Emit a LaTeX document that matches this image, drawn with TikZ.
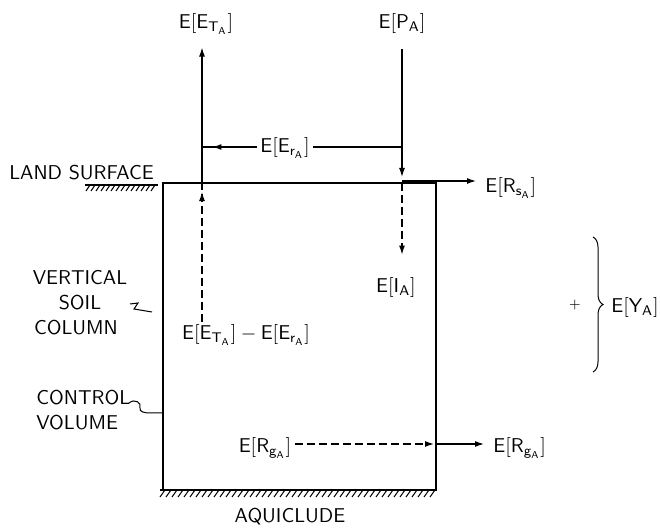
\documentclass[tikz,border=0pt]{standalone}
\usetikzlibrary{arrows.meta,decorations.markings,decorations.pathreplacing}
\newcommand{\expv}[1]{$\mathsf{E[#1]}$}

\begin{document}
\begin{tikzpicture}[x=0.5pt,y=-0.5pt,font=\sffamily,
	every node/.style={inner sep=1.5pt},
	flow/.style={line width=0.6pt},
	tip/.style={-{Latex[length=4.5pt,width=3pt]}},
	dashflow/.style={flow,dash pattern=on 4pt off 2pt},
	tipat/.style={postaction={decorate},decoration={markings,
		mark=at position #1 with {\arrow{Latex[length=4.5pt,width=3pt]}}}},
	txt/.style={anchor=base},
	hatch/.style={line width=0.5pt}]
		\useasboundingbox (0,0) rectangle (660,529);
		\node[txt] (ET) at (206,29) {\expv{E_{T_A}}};
		\node[txt] (P) at (402,29) {\expv{P_A}};
		\node[txt] (Er) at (285,153) {\expv{E_{r_A}}};
		\node[txt,anchor=base west] (Rs) at (482,193) {\expv{R_{s_A}}};
		\node[txt] (I) at (396,293) {\expv{I_A}};
		\node[txt] (Net) at (246,340) {$\mathsf{E[E_{T_A}] - E[E_{r_A}]}$};
		\node[txt] (Rg) at (265,453) {\expv{R_{g_A}}};
		\node[txt,anchor=base west] (Rgout) at (490,453) {\expv{R_{g_A}}};
		\node[txt,anchor=base west] (Y) at (608,313) {\expv{Y_A}};
		\node (plus) at (575,305) {\scriptsize +};
		\node[txt,anchor=base west] (land) at (6,180) {LAND SURFACE};
		\node[txt] (vert) at (80,285) {VERTICAL};
		\node[txt] (soil) at (80,310) {SOIL};
		\node[txt] (col) at (76,335) {COLUMN};
		\node[txt,anchor=base west] (ctrl) at (33,405) {CONTROL};
		\node[txt,anchor=base west] (vol) at (33,430) {VOLUME};
		\node[txt] (aqui) at (290,523) {AQUICLUDE};
		\coordinate (tl) at (163,183);
		\coordinate (br) at (436,490);
		\coordinate (etbase) at (202,183);
		\coordinate (pbase) at (402,183);
		\coordinate (rsL) at (402,181);
		\coordinate (erR) at (402,147);
		\coordinate (erL) at (202,147);
		\coordinate (rgR) at (436,444);
		\coordinate (bracetop) at (593,237);
		\coordinate (bracebot) at (593,372);
		\draw[flow] (tl) rectangle (br);
		\draw[flow,tip,shorten >=5pt] (etbase) -- (etbase |- ET.south);
		\draw[flow,tip,shorten <=6pt,shorten >=3pt] (pbase |- P.south) -- (pbase);
		\draw[flow,tipat=0.81] (erL -| Er.west) -- (erL);
		\draw[flow] (erR) -- (erR -| Er.east);
		\draw[flow,tip,shorten >=3pt] (rsL) -- (rsL -| Rs.west);
		\draw[dashflow,tip,shorten >=10pt] (pbase) -- (pbase |- I.north);
		\draw[dashflow,tipat=0.935] (etbase |- Net.north) -- (etbase);
		\draw[dashflow,tip,shorten >=1pt] (Rg.east |- rgR) -- (rgR);
		\draw[flow,tip,shorten >=3pt] (rgR) -- (rgR -| Rgout.west);
		\draw[line width=0.5pt,decorate,decoration={brace,amplitude=5pt}] (bracetop) -- (bracebot);
		\draw[flow] (85,185) -- (158,185);
		\foreach \x in {86,91,...,154}
			\draw[hatch] (\x,191) -- (\x+4,185);
		\draw[flow] (160,490) -- (436,490);
		\foreach \x in {160,166,...,430}
			\draw[hatch] (\x,497) -- (\x+5,490);
		\draw[hatch] (130,304) -- (138,303) -- (134,309) -- (152,312);
		\draw[hatch] (129,403) .. controls (135,398) and (142,403) .. (140,408)
			.. controls (139,412) and (145,413) .. (150,413) -- (163,413);
	\end{tikzpicture}
\end{document}
